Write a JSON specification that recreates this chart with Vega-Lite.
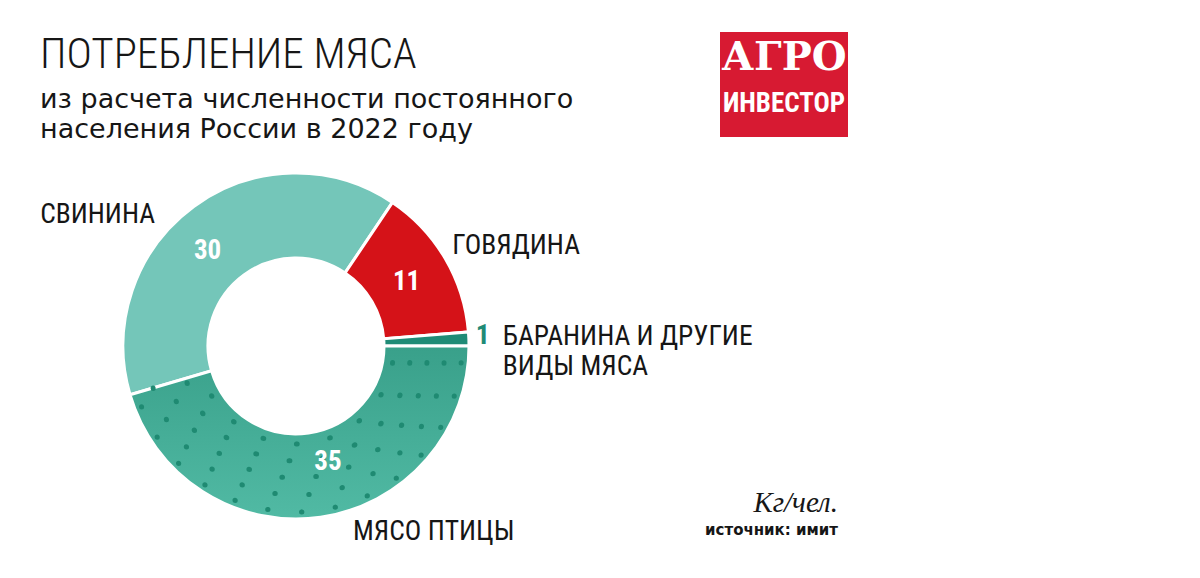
{
  "$schema": "https://vega.github.io/schema/vega-lite/v6.json",
  "padding": {"left": 40, "top": 32, "right": 10, "bottom": 10},
  "background": "white",
  "config": {"view": {"stroke": null}},
  "datasets": {
    "meat": [
      {"key": "poultry", "name": "МЯСО ПТИЦЫ", "value": 35, "order": 1},
      {"key": "pork", "name": "СВИНИНА", "value": 30, "order": 2},
      {"key": "beef", "name": "ГОВЯДИНА", "value": 11, "order": 3},
      {"key": "lamb", "name": "БАРАНИНА И ДРУГИЕ\nВИДЫ МЯСА", "value": 1, "order": 4}
    ]
  },
  "columns": 2,
  "bounds": "flush",
  "align": "each",
  "spacing": {"row": 36, "column": 251},
  "concat": [
    {
      "width": 346,
      "height": 105,
      "data": {"values": [{}]},
      "mark": {"type": "text", "text": " "}
    },
    {
      "width": 128,
      "height": 105,
      "view": {"fill": "#D71A32", "stroke": null},
      "data": {"values": [{}]},
      "layer": [
        {"mark": {"type": "text", "text": "АГРО", "font": "DejaVu Serif", "fontWeight": "bold", "fontSize": 40, "fill": "white", "baseline": "middle", "dy": -26.5}},
        {"mark": {"type": "text", "text": "ИНВЕСТОР", "font": "Roboto Condensed, Liberation Sans Narrow, DejaVu Sans Condensed, sans-serif", "fontWeight": "bold", "fontSize": 27, "fill": "white", "baseline": "middle", "dy": 19.5}}
      ]
    },
    {
      "width": 346,
      "height": 346,
      "title": {
        "text": "ПОТРЕБЛЕНИЕ МЯСА",
        "subtitle": ["из расчета численности постоянного", "населения России в 2022 году"],
        "anchor": "start",
        "frame": "group",
        "orient": "top",
        "dx": -83,
        "offset": 21.5,
        "font": "Roboto Condensed, Liberation Sans Narrow, DejaVu Sans Condensed, sans-serif",
        "fontSize": 43,
        "fontWeight": 300,
        "color": "#161616",
        "subtitleFont": "DejaVu Sans",
        "subtitleFontSize": 27,
        "subtitleColor": "#161616",
        "subtitleLineHeight": 30.5,
        "subtitlePadding": 9.5
      },
      "data": {"name": "meat"},
      "encoding": {
        "theta": {"field": "value", "type": "quantitative", "stack": true, "scale": {"range": [1.5707963, 7.8539816]}},
        "order": {"field": "order", "type": "quantitative"},
        "detail": {"field": "key", "type": "nominal"}
      },
      "layer": [
        {
          "mark": {"type": "arc", "radius": 173, "radius2": 88, "stroke": "white", "strokeWidth": 3},
          "encoding": {
            "color": {"field": "key", "type": "nominal", "legend": null,
              "scale": {"domain": ["poultry", "pork", "beef", "lamb"], "range": ["#44AD97", "#74C6B9", "#D51218", "#1F8B76"]}}
          }
        },
        {
          "mark": {"type": "arc", "radius": 173, "radius2": 88, "stroke": "white", "strokeWidth": 3,
            "fill": {"gradient": "linear", "x1": 0, "y1": 0, "x2": 0, "y2": 1, "stops": [{"offset": 0, "color": "#39A08A"}, {"offset": 1, "color": "#51BAA4"}]}},
          "encoding": {"opacity": {"condition": {"test": "datum.key === 'poultry'", "value": 1}, "value": 0}}
        },
        {
          "mark": {"type": "arc", "radius": 98, "radius2": 98, "filled": false, "stroke": "#1F8A72", "strokeWidth": 5, "strokeCap": "round", "strokeDash": [0, 34], "strokeDashOffset": 9.11},
          "encoding": {"strokeOpacity": {"condition": {"test": "datum.key === 'poultry'", "value": 1}, "value": 0}}
        },
        {
          "mark": {"type": "arc", "radius": 115, "radius2": 115, "filled": false, "stroke": "#1F8A72", "strokeWidth": 5, "strokeCap": "round", "strokeDash": [0, 34], "strokeDashOffset": 28.56},
          "encoding": {"strokeOpacity": {"condition": {"test": "datum.key === 'poultry'", "value": 1}, "value": 0}}
        },
        {
          "mark": {"type": "arc", "radius": 132, "radius2": 132, "filled": false, "stroke": "#1F8A72", "strokeWidth": 5, "strokeCap": "round", "strokeDash": [0, 34], "strokeDashOffset": 14.01},
          "encoding": {"strokeOpacity": {"condition": {"test": "datum.key === 'poultry'", "value": 1}, "value": 0}}
        },
        {
          "mark": {"type": "arc", "radius": 149, "radius2": 149, "filled": false, "stroke": "#1F8A72", "strokeWidth": 5, "strokeCap": "round", "strokeDash": [0, 34], "strokeDashOffset": 33.46},
          "encoding": {"strokeOpacity": {"condition": {"test": "datum.key === 'poultry'", "value": 1}, "value": 0}}
        },
        {
          "mark": {"type": "arc", "radius": 166, "radius2": 166, "filled": false, "stroke": "#1F8A72", "strokeWidth": 5, "strokeCap": "round", "strokeDash": [0, 34], "strokeDashOffset": 18.91},
          "encoding": {"strokeOpacity": {"condition": {"test": "datum.key === 'poultry'", "value": 1}, "value": 0}}
        },
        {
          "mark": {"type": "text", "radius": 130.5, "font": "Roboto Condensed, Liberation Sans Narrow, DejaVu Sans Condensed, sans-serif", "fontSize": 27, "fontWeight": "bold", "fill": "white", "align": "center", "baseline": "middle", "dx": -2, "dy": 2},
          "encoding": {"text": {"condition": {"test": "datum.key === 'beef'", "field": "value", "type": "quantitative"}, "value": ""}}
        },
        {
          "mark": {"type": "text", "radius": 130.5, "font": "Roboto Condensed, Liberation Sans Narrow, DejaVu Sans Condensed, sans-serif", "fontSize": 27, "fontWeight": "bold", "fill": "white", "align": "center", "baseline": "middle", "dx": -11.3, "dy": 10.7},
          "encoding": {"text": {"condition": {"test": "datum.key === 'pork'", "field": "value", "type": "quantitative"}, "value": ""}}
        },
        {
          "mark": {"type": "text", "radius": 130.5, "font": "Roboto Condensed, Liberation Sans Narrow, DejaVu Sans Condensed, sans-serif", "fontSize": 27, "fontWeight": "bold", "fill": "white", "align": "center", "baseline": "middle", "dx": 13.4, "dy": -12.7},
          "encoding": {"text": {"condition": {"test": "datum.key === 'poultry'", "field": "value", "type": "quantitative"}, "value": ""}}
        },
        {
          "mark": {"type": "text", "radius": 187, "font": "Roboto Condensed, Liberation Sans Narrow, DejaVu Sans Condensed, sans-serif", "fontSize": 28, "fontWeight": "bold", "fill": "#1F8B76", "align": "center", "baseline": "middle", "dy": -2},
          "encoding": {"text": {"condition": {"test": "datum.key === 'lamb'", "field": "value", "type": "quantitative"}, "value": ""}}
        },
        {
          "mark": {"type": "text", "radius": 207, "font": "Roboto Condensed, Liberation Sans Narrow, DejaVu Sans Condensed, sans-serif", "fontSize": 27.5, "fill": "#161616", "align": "left", "baseline": "alphabetic", "lineBreak": "\n", "lineHeight": 30, "dy": 7.5},
          "encoding": {"text": {"condition": {"test": "datum.key === 'lamb'", "field": "name", "type": "nominal"}, "value": ""}}
        },
        {
          "mark": {"type": "text", "radius": 181, "font": "Roboto Condensed, Liberation Sans Narrow, DejaVu Sans Condensed, sans-serif", "fontSize": 27.5, "fill": "#161616", "align": "left", "baseline": "alphabetic"},
          "encoding": {"text": {"condition": {"test": "datum.key === 'beef'", "field": "name", "type": "nominal"}, "value": ""}}
        },
        {
          "mark": {"type": "text", "radius": 173, "font": "Roboto Condensed, Liberation Sans Narrow, DejaVu Sans Condensed, sans-serif", "fontSize": 27.5, "fill": "#161616", "align": "right", "baseline": "alphabetic", "dx": -38.7, "dy": 16.5},
          "encoding": {"text": {"condition": {"test": "datum.key === 'pork'", "field": "name", "type": "nominal"}, "value": ""}}
        },
        {
          "mark": {"type": "text", "radius": 196, "font": "Roboto Condensed, Liberation Sans Narrow, DejaVu Sans Condensed, sans-serif", "fontSize": 27.5, "fill": "#161616", "align": "left", "baseline": "alphabetic", "dx": 29.1},
          "encoding": {"text": {"condition": {"test": "datum.key === 'poultry'", "field": "name", "type": "nominal"}, "value": ""}}
        }
      ]
    },
    {
      "width": 128,
      "height": 346,
      "data": {"values": [{}]},
      "mark": {"type": "text", "text": " "},
      "title": {
        "text": "Кг/чел.",
        "subtitle": "источник: имит",
        "orient": "bottom",
        "anchor": "end",
        "frame": "group",
        "offset": -30,
        "dx": -10,
        "font": "Liberation Serif",
        "fontStyle": "italic",
        "fontSize": 29,
        "fontWeight": "normal",
        "color": "#161616",
        "subtitleFont": "DejaVu Sans",
        "subtitleFontSize": 15,
        "subtitleFontWeight": "bold",
        "subtitleColor": "#161616",
        "subtitlePadding": 4.7
      }
    }
  ]
}
